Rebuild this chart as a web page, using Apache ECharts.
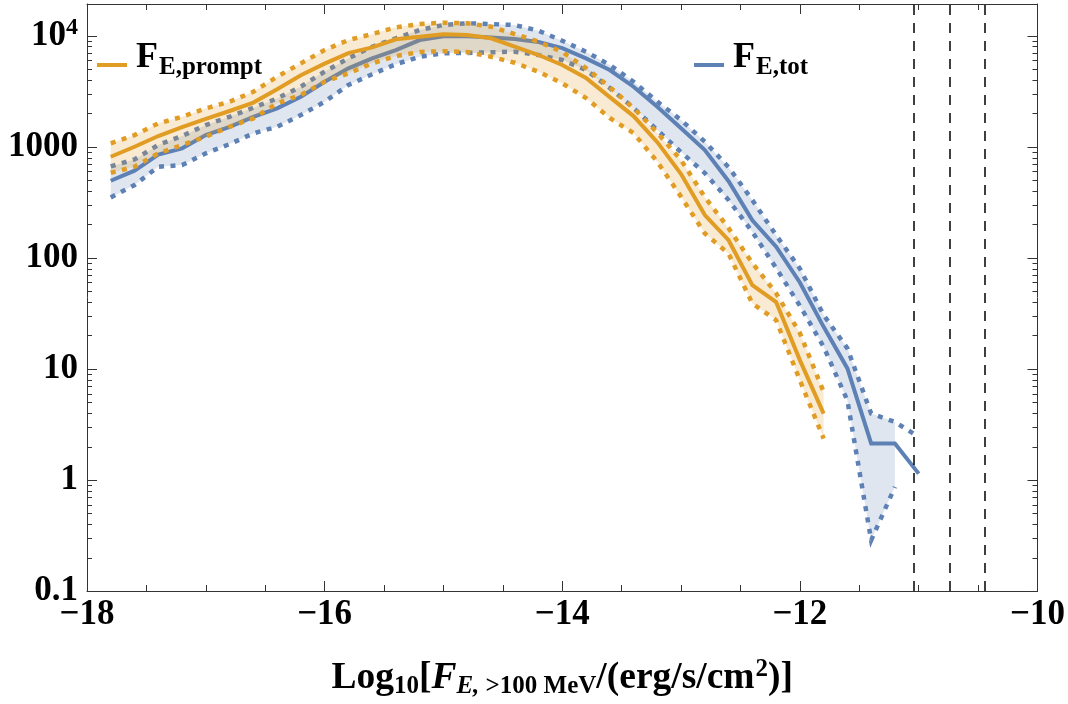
<!DOCTYPE html>
<html>
<head>
<meta charset="utf-8">
<script src="https://cdn.jsdelivr.net/npm/echarts@6/dist/echarts.min.js"></script>
<style>html,body{margin:0;padding:0;background:#fff}#c{width:1068px;height:704px}</style>
</head>
<body>
<div id="c"></div>
<script>
// ---- data ----
const xPrompt = [-17.8,-17.6,-17.4,-17.2,-17.0,-16.8,-16.6,-16.4,-16.2,-16.0,-15.8,-15.6,-15.4,-15.2,-15.0,-14.8,-14.6,-14.4,-14.2,-14.0,-13.8,-13.6,-13.4,-13.2,-13.0,-12.8,-12.6,-12.4,-12.2,-12.0,-11.8];
const xTot = [-17.8,-17.6,-17.4,-17.2,-17.0,-16.8,-16.6,-16.4,-16.2,-16.0,-15.8,-15.6,-15.4,-15.2,-15.0,-14.8,-14.6,-14.4,-14.2,-14.0,-13.8,-13.6,-13.4,-13.2,-13.0,-12.8,-12.6,-12.4,-12.2,-12.0,-11.8,-11.6,-11.4,-11.2,-11.0];

const promptMid  = [813,1000,1250,1500,1780,2100,2500,3300,4400,5600,6980,7860,9280,9800,10300,10150,9480,7960,6700,5450,4160,2800,1890,1100,568,243,144,56.8,40,12,3.96];
const promptHigh = [1074,1274,1625,1862,2218,2543,3128,4272,5640,7430,9140,10350,11900,12740,13100,12950,12050,10350,8830,7130,5120,3450,2233,1340,758,352,185,89.6,48,21,6.2];
const promptLow  = [583,661,873,1036,1231,1514,1803,2461,2924,3854,4585,5640,6560,7130,7260,7130,6470,5710,4740,3725,2750,1815,1328,733,355,166,109,38.8,27.5,7.9,2.36];

const totMid  = [494,610,850,968,1274,1514,1862,2218,2820,3854,5080,6250,7430,9140,9900,9900,9640,9330,8770,7740,6250,4910,3473,2293,1465,933,490,218,126,60,23.9,10.1,2.13,2.13,1.14];
const totHigh = [665,770,1040,1250,1570,1862,2250,2720,3480,4750,6250,7960,9480,11250,12480,12950,12740,12480,11090,9020,7180,5450,3854,2550,1740,1110,655,331,160,80,30.5,15.3,3.96,3.33,2.44];
const totLow  = [350,452,661,684,873,1057,1320,1514,1930,2543,3600,4500,5540,6470,6937,7000,7100,7180,6700,6040,4910,3380,2233,1413,895,579,331,171,81,37,15.8,5.2,0.286,0.865];

const dashedX = [-11.04, -10.74, -10.44];

const xTicks = [-18, -16, -14, -12, -10];
const yMajorTicks = [0.1, 1, 10, 100, 1000, 10000];
const yTickLabels = ['0.1', '1', '10', '100', '1000', '{b|10}{s|4}'];
const legendNames = ['F_E,prompt', 'F_E,tot'];

// ---- style ----
const ORANGE = '#E19C24', BLUE = '#5E81B5', AX = '#333333';
const FONT = '"Liberation Serif", "Times New Roman", serif';
const Y_MAX = 19300;

const yMinorTicks = [];
yMajorTicks.forEach(d => { for (let m = 2; m <= 9; m++) { const v = d * m; if (v < Y_MAX) yMinorTicks.push(v); } });

const pts = (xs, ys) => ys.map((y, i) => [xs[i], y]);

function band(xs, lo, hi, color, z) {
  return {
    type: 'custom', z, silent: true, animation: false,
    data: [[xs[0], lo[0]]],
    renderItem(params, api) {
      const n = Math.min(lo.length, hi.length);
      const p = [];
      for (let i = 0; i < n; i++) p.push(api.coord([xs[i], hi[i]]));
      for (let i = n - 1; i >= 0; i--) p.push(api.coord([xs[i], lo[i]]));
      return { type: 'polygon', shape: { points: p }, style: { fill: color, opacity: 0.2 } };
    }
  };
}
function line(name, xs, ys, color, dotted, z, extra) {
  return Object.assign({
    type: 'line', name, z, silent: true, animation: false,
    showSymbol: false, symbol: 'none',
    data: pts(xs, ys),
    lineStyle: { color, width: dotted ? 4.5 : 4, type: dotted ? [5, 6.5] : 'solid', cap: 'butt', join: 'miter' },
    itemStyle: { color }
  }, extra || {});
}
function ticks() {
  return {
    type: 'custom', z: 10, silent: true, animation: false,
    data: [[-18, 1]],
    renderItem(params, api) {
      const ch = [];
      const L = api.coord([-18, 1])[0], R = api.coord([-10, 1])[0];
      const seg = (x1, y, x2) => ({ type: 'line', shape: { x1, y1: y, x2, y2: y }, style: { stroke: AX, lineWidth: 1 } });
      yMajorTicks.forEach(v => { const y = Math.round(api.coord([-18, v])[1]) + 0.5; ch.push(seg(L, y, L + 10), seg(R, y, R - 10)); });
      yMinorTicks.forEach(v => { const y = Math.round(api.coord([-18, v])[1]) + 0.5; ch.push(seg(L, y, L + 5), seg(R, y, R - 5)); });
      return { type: 'group', children: ch };
    }
  };
}

const txt = { fontFamily: FONT, fontWeight: 'bold', color: '#000' };
const legendRich = {
  F: Object.assign({ fontSize: 36, verticalAlign: 'middle', padding: [0, 0, 14, 4] }, txt),
  sub: Object.assign({ fontSize: 25, verticalAlign: 'middle', padding: [6, 0, 0, 1] }, txt)
};
const option = {
  animation: false,
  backgroundColor: '#fff',
  grid: { left: 87, right: 30.5, top: 4, bottom: 113, containLabel: false, outerBoundsMode: 'none' },
  legend: [
    {
      data: [legendNames[0]], left: 97, top: 40, padding: 0, icon: 'rect', itemWidth: 30, itemHeight: 4, itemGap: 0,
      selectedMode: false,
      formatter: () => '{F|F}{sub|E,prompt}',
      textStyle: { rich: legendRich }
    },
    {
      data: [legendNames[1]], left: 694, top: 40, padding: 0, icon: 'rect', itemWidth: 30, itemHeight: 4, itemGap: 0,
      selectedMode: false,
      formatter: () => '{F|F}{sub|E,tot}',
      textStyle: { rich: legendRich }
    }
  ],
  xAxis: [
    {
      type: 'value', min: -18, max: -10, interval: 2, position: 'bottom',
      axisLine: { show: true, onZero: false, lineStyle: { color: AX, width: 1 } },
      axisTick: { show: true, inside: true, length: 10, lineStyle: { color: AX } },
      minorTick: { show: true, splitNumber: 4, length: 6, lineStyle: { color: AX } },
      splitLine: { show: false }, minorSplitLine: { show: false },
      axisLabel: { margin: 6, color: '#000', fontFamily: FONT, fontWeight: 'bold', fontSize: 35,
        formatter: v => (xTicks.indexOf(v) >= 0 ? (v < 0 ? '\u2212' + Math.abs(v) : String(v)) : '') },
      name: '{n|Log}{ns|10}{n|[}{i|F}{is|E,}{ns| >100 MeV}{n|/(erg/s/cm}{sup|2}{n|)]}',
      nameLocation: 'middle', nameGap: 66,
      nameTextStyle: { rich: {
        n: Object.assign({ fontSize: 37.5, verticalAlign: 'middle' }, txt),
        i: Object.assign({ fontSize: 37.5, verticalAlign: 'middle', fontStyle: 'italic' }, txt),
        ns: Object.assign({ fontSize: 25, verticalAlign: 'middle', padding: [16, 0, 0, 0] }, txt),
        is: Object.assign({ fontSize: 25, verticalAlign: 'middle', fontStyle: 'italic', padding: [16, 0, 0, 0] }, txt),
        sup: Object.assign({ fontSize: 25, verticalAlign: 'middle', padding: [0, 0, 18, 1] }, txt)
      } }
    },
    {
      type: 'value', min: -18, max: -10, interval: 2, position: 'top',
      axisLine: { show: true, onZero: false, lineStyle: { color: AX, width: 1 } },
      axisTick: { show: true, inside: true, length: 10, lineStyle: { color: AX } },
      minorTick: { show: true, splitNumber: 4, length: 6, lineStyle: { color: AX } },
      splitLine: { show: false }, axisLabel: { show: false }
    }
  ],
  yAxis: [
    {
      type: 'log', logBase: 10, min: 0.1, max: Y_MAX, position: 'left',
      axisLine: { show: true, onZero: false, lineStyle: { color: AX, width: 1 } },
      axisTick: { show: false }, minorTick: { show: false }, splitLine: { show: false },
      axisLabel: {
        margin: 9, color: '#000', fontFamily: FONT, fontWeight: 'bold', fontSize: 35, showMaxLabel: true, showMinLabel: true,
        formatter: v => {
          const idx = yMajorTicks.findIndex(t => Math.abs(Math.log10(t) - Math.log10(v)) < 1e-6);
          return idx >= 0 ? yTickLabels[idx] : '';
        },
        rich: {
          b: Object.assign({ fontSize: 35, verticalAlign: 'middle' }, txt),
          s: Object.assign({ fontSize: 24, verticalAlign: 'middle', padding: [0, 0, 16, 0] }, txt)
        }
      }
    },
    {
      type: 'log', logBase: 10, min: 0.1, max: Y_MAX, position: 'right',
      axisLine: { show: true, onZero: false, lineStyle: { color: AX, width: 1 } },
      axisTick: { show: false }, splitLine: { show: false }, axisLabel: { show: false }
    }
  ],
  series: [
    band(xTot, totLow, totHigh, BLUE, 1),
    line(null, xTot, totHigh, BLUE, true, 2),
    line(null, xTot.slice(0, totLow.length), totLow, BLUE, true, 2),
    line(legendNames[1], xTot, totMid, BLUE, false, 2),
    band(xPrompt, promptLow, promptHigh, ORANGE, 3),
    line(null, xPrompt, promptHigh, ORANGE, true, 4),
    line(null, xPrompt, promptLow, ORANGE, true, 4),
    line(legendNames[0], xPrompt, promptMid, ORANGE, false, 4, {
      markLine: {
        silent: true, symbol: ['none', 'none'], animation: false, label: { show: false },
        lineStyle: { color: '#000', width: 1.5, type: [10, 8] },
        data: dashedX.map(x => ({ xAxis: x }))
      }
    }),
    ticks()
  ]
};
const chart = echarts.init(document.getElementById('c'), null, { renderer: 'canvas' });
chart.setOption(option);
</script>
</body>
</html>
